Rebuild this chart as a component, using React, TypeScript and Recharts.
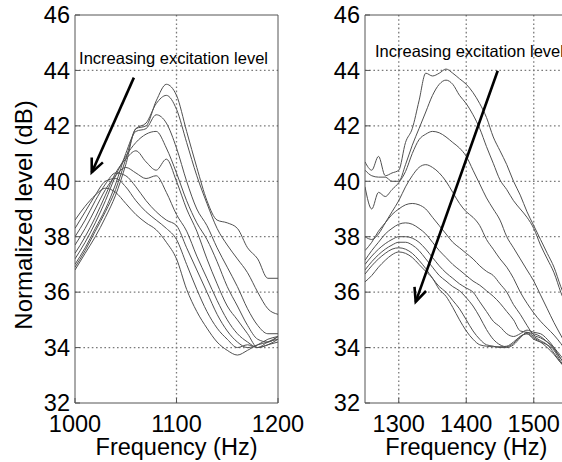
import React from 'react';
import { LineChart, Line, XAxis, YAxis, ReferenceLine, ReferenceDot } from 'recharts';

// frequency grid (Hz)
const leftFreq = [1000, 1010, 1020, 1030, 1040, 1050, 1060, 1070, 1080, 1090, 1100, 1110, 1120, 1130, 1140, 1150, 1160, 1170, 1180, 1190, 1200];
const rightFreq = [1250, 1260, 1270, 1280, 1290, 1300, 1310, 1320, 1330, 1340, 1350, 1360, 1370, 1380, 1390, 1400, 1410, 1420, 1430, 1440, 1450, 1460, 1470, 1480, 1490, 1500, 1510, 1520, 1530, 1540, 1550];

// left panel, normalized level (dB), lowest excitation first
const left1 = [36.8, 37.4, 38.0, 38.7, 39.5, 40.6, 41.9, 42.0, 42.9, 43.5, 43.1, 41.8, 40.5, 39.3, 38.6, 38.5, 38.3, 37.6, 37.2, 36.5, 36.5];
const left2 = [36.9, 37.5, 38.2, 38.9, 39.7, 40.8, 41.9, 42.1, 42.8, 43.1, 42.6, 41.4, 40.2, 39.2, 38.3, 37.7, 37.2, 36.7, 36.0, 35.4, 35.2];
const left3 = [37.0, 37.6, 38.3, 39.0, 39.9, 41.0, 41.8, 41.9, 42.4, 42.1, 41.2, 40.0, 39.0, 38.4, 37.6, 36.9, 36.2, 35.4, 34.8, 34.5, 34.5];
const left4 = [37.2, 37.8, 38.5, 39.3, 40.2, 40.9, 41.4, 41.7, 41.8, 41.2, 40.3, 39.3, 38.5, 37.9, 37.1, 36.2, 35.5, 34.8, 34.3, 34.2, 34.4];
const left5 = [37.4, 38.0, 38.7, 39.5, 40.3, 40.8, 41.1, 40.7, 40.4, 40.8, 40.0, 39.0, 38.2, 37.2, 36.3, 35.5, 35.0, 34.5, 34.0, 34.1, 34.3];
const left6 = [37.7, 38.3, 39.0, 39.7, 40.2, 40.5, 40.3, 40.1, 40.2, 39.6, 38.8, 38.2, 37.3, 36.5, 35.7, 35.0, 34.5, 34.2, 34.0, 34.1, 34.2];
const left7 = [38.0, 38.6, 39.3, 39.9, 40.3, 40.2, 39.8, 39.3, 38.9, 38.6, 38.4, 37.6, 36.8, 36.0, 35.2, 34.6, 34.2, 34.0, 34.1, 34.3, 34.4];
const left8 = [38.3, 38.9, 39.5, 40.0, 40.1, 39.8, 39.3, 38.9, 38.6, 38.3, 37.9, 37.0, 36.1, 35.3, 34.7, 34.3, 34.0, 34.1, 34.0, 34.2, 34.3];
const left9 = [38.6, 39.1, 39.5, 39.75, 39.6, 39.2, 38.8, 38.5, 38.25, 37.8, 37.2, 36.1, 35.3, 34.7, 34.2, 33.9, 33.73, 33.9, 34.1, 34.2, 34.4];

// right panel
const right1 = [40.7, 40.4, 40.9, 40.2, 40.3, 40.4, 41.4, 41.9, 42.9, 43.9, 43.8, 43.9, 44.05, 43.9, 43.7, 43.5, 43.2, 42.8, 42.3, 41.6, 41.1, 40.6, 40.0, 39.5, 38.9, 38.4, 37.9, 37.4, 36.9, 36.2, 35.6];
const right2 = [40.4, 40.2, 40.15, 40.15, 40.0, 40.0, 40.6, 41.3, 41.9, 42.5, 43.1, 43.5, 43.65, 43.5, 43.1, 42.8, 42.4, 41.9, 41.25, 40.65, 40.05, 39.7, 39.3, 39.0, 38.7, 38.3, 37.7, 37.2, 36.7, 36.0, 35.4];
const right3 = [39.8, 39.0, 39.6, 39.45, 39.7, 39.95, 40.35, 41.0, 41.5, 41.7, 41.8, 41.75, 41.6, 41.4, 41.2, 40.9, 40.4, 39.9, 39.4, 39.0, 38.6, 38.0, 37.6, 37.2, 36.8, 36.4, 35.9, 35.4, 34.9, 34.45, 34.0];
const right4 = [38.0, 37.9, 38.1, 38.5, 38.9, 39.3, 39.8, 40.2, 40.5, 40.6, 40.5, 40.3, 40.0, 39.6, 39.2, 38.9, 38.7, 38.4, 37.9, 37.55, 37.2, 36.9, 36.5, 36.0, 35.6, 35.25, 34.95, 34.7, 34.45, 34.15, 33.8];
const right5 = [37.5, 37.8, 38.2, 38.5, 38.8, 39.0, 39.15, 39.2, 39.15, 39.0, 38.7, 38.4, 38.1, 37.8, 37.6, 37.4, 37.2, 36.95, 36.75, 36.6, 36.3, 36.0, 35.55, 35.2, 34.8, 34.45, 34.35, 34.2, 34.0, 33.7, 33.4];
const right6 = [37.15, 37.5, 37.8, 38.1, 38.3, 38.45, 38.5, 38.45, 38.3, 38.1, 37.8, 37.5, 37.25, 37.0, 36.8, 36.6, 36.4, 36.25, 36.05, 35.85, 35.6, 35.3, 35.0, 34.6, 34.55, 34.5, 34.4, 34.2, 33.95, 33.6, 33.3];
const right7 = [37.0, 37.3, 37.55, 37.75, 37.9, 38.0, 38.0, 37.95, 37.8, 37.55, 37.25, 36.95, 36.7, 36.5, 36.3, 36.15, 36.0, 35.65, 35.3, 34.95, 34.75, 34.5, 34.4, 34.5, 34.63, 34.55, 34.5, 34.3, 34.0, 33.6, 33.3];
const right8 = [36.8, 37.1, 37.35, 37.55, 37.7, 37.8, 37.8, 37.7, 37.5, 37.2, 36.9, 36.6, 36.4, 36.2, 36.05, 35.8, 35.5, 35.1, 34.65, 34.3, 34.1, 34.03, 34.15, 34.4, 34.5, 34.3, 34.2, 34.1, 33.9, 33.5, 33.2];
const right9 = [36.65, 36.95, 37.2, 37.4, 37.55, 37.6, 37.55, 37.4, 37.15, 36.85, 36.5, 36.2, 36.0, 35.7, 35.4, 35.0, 34.6, 34.3, 34.1, 34.05, 34.0, 34.0, 34.1, 34.35, 34.55, 34.4, 34.25, 34.1, 33.8, 33.45, 33.2];
const right10 = [36.37, 36.6, 36.9, 37.15, 37.35, 37.45, 37.4, 37.25, 37.0, 36.75, 36.5, 36.1, 35.85, 35.45, 35.0, 34.6, 34.3, 34.1, 34.05, 34.03, 34.03, 34.05, 34.2, 34.4, 34.5, 34.35, 34.2, 34.0, 33.75, 33.45, 33.2];

const levelTicks = [32, 34, 36, 38, 40, 42, 44, 46];
const leftFreqTicks = [1000, 1100, 1200];
const rightFreqTicks = [1300, 1400, 1500];

const noteText = 'Increasing excitation level';
const leftArrow = [{ x: 1058, y: 43.74 }, { x: 1016.5, y: 40.32 }];
const rightArrow = [{ x: 1446.6, y: 43.99 }, { x: 1325.1, y: 35.65 }];
const leftNoteAt = { x: 1004, y: 44.23 };
const rightNoteAt = { x: 1264.8, y: 44.47 };

const FONT = '"Liberation Sans", Arial, Helvetica, sans-serif';

const toRows = (freq: number[], curves: number[][]) =>
  freq.map((f, i) => {
    const row: Record<string, number> = { f };
    curves.forEach((c, k) => {
      row['c' + k] = c[i];
    });
    return row;
  });

// dotted grid line and solid frame edge, both placed through the axis scales
const gridShape = (p: any) => (
  <line x1={p.x1} y1={p.y1} x2={p.x2} y2={p.y2} stroke="#7a7a7a" strokeWidth={1.3} strokeDasharray="1.6 2.6" />
);
const frameShape = (p: any) => (
  <line x1={p.x1} y1={p.y1} x2={p.x2} y2={p.y2} stroke="#555" strokeWidth={1} />
);

const arrowShape = (p: any) => {
  const { x1, y1, x2, y2 } = p;
  const ang = Math.atan2(y2 - y1, x2 - x1);
  const len = 15;
  const spread = 0.42;
  const ax = x2 - len * Math.cos(ang - spread);
  const ay = y2 - len * Math.sin(ang - spread);
  const bx = x2 - len * Math.cos(ang + spread);
  const by = y2 - len * Math.sin(ang + spread);
  return (
    <g>
      <line x1={x1} y1={y1} x2={x2} y2={y2} stroke="#000" strokeWidth={2.6} />
      <polyline points={`${ax},${ay} ${x2},${y2} ${bx},${by}`} fill="none" stroke="#000" strokeWidth={2.6} />
    </g>
  );
};

const noteShape = (p: any) => (
  <text x={p.cx} y={p.cy} fontSize={16.5} fill="#000">
    {noteText}
  </text>
);

const yLabel = (p: any) => {
  const vb = p.viewBox;
  const cx = vb.x + 32;
  const cy = vb.y + vb.height / 2 + 6;
  return (
    <text x={cx} y={cy} transform={`rotate(-90 ${cx} ${cy})`} textAnchor="middle" fontSize={24} fill="#000">
      Normalized level (dB)
    </text>
  );
};

interface PanelProps {
  freq: number[];
  curves: number[][];
  domain: [number, number];
  ticks: number[];
  arrow: { x: number; y: number }[];
  noteAt: { x: number; y: number };
  width: number;
  marginRight: number;
  showYLabel?: boolean;
}

function Panel({ freq, curves, domain, ticks, arrow, noteAt, width, marginRight, showYLabel }: PanelProps) {
  const rows = toRows(freq, curves);
  const innerX = ticks.filter((t) => t > domain[0] && t < domain[1]);
  const innerY = levelTicks.slice(1, -1);
  return (
    <LineChart width={width} height={462} data={rows} margin={{ top: 15, right: marginRight, left: 0, bottom: 0 }} style={{ overflow: 'visible' }}>
      <XAxis
        dataKey="f"
        type="number"
        domain={domain}
        ticks={ticks}
        interval={0}
        allowDataOverflow
        axisLine={false}
        tickLine={{ stroke: '#555' }}
        tickSize={-5}
        tickMargin={17}
        tick={{ fill: '#000', fontSize: 23.5 }}
        height={59}
        label={{ value: 'Frequency (Hz)', position: 'insideBottom', offset: 7, fill: '#000', fontSize: 23.5 }}
      />
      <YAxis
        type="number"
        domain={[32, 46]}
        ticks={levelTicks}
        interval={0}
        allowDataOverflow
        width={75}
        axisLine={false}
        tickLine={{ stroke: '#555' }}
        tickSize={-5}
        tickMargin={10}
        tick={{ fill: '#000', fontSize: 23.5 }}
        label={showYLabel ? { value: 'Normalized level (dB)', content: yLabel } : undefined}
      />
      {innerY.map((v) => (
        <ReferenceLine key={'gy' + v} y={v} shape={gridShape} ifOverflow="visible" />
      ))}
      {innerX.map((v) => (
        <ReferenceLine key={'gx' + v} x={v} shape={gridShape} ifOverflow="visible" />
      ))}
      <ReferenceLine y={32} shape={frameShape} ifOverflow="visible" />
      <ReferenceLine y={46} shape={frameShape} ifOverflow="visible" />
      <ReferenceLine x={domain[0]} shape={frameShape} ifOverflow="visible" />
      <ReferenceLine x={domain[1]} shape={frameShape} ifOverflow="visible" />
      {curves.map((_, k) => (
        <Line key={k} dataKey={'c' + k} type="monotone" stroke="#505050" strokeWidth={1} dot={false} activeDot={false} isAnimationActive={false} />
      ))}
      <ReferenceLine segment={arrow} shape={arrowShape} ifOverflow="visible" />
      <ReferenceDot x={noteAt.x} y={noteAt.y} r={0} shape={noteShape} ifOverflow="visible" />
    </LineChart>
  );
}

export default function App() {
  return (
    <div style={{ position: 'fixed', left: 0, top: 0, width: 562, height: 462, overflow: 'hidden', background: '#fff', fontFamily: FONT }}>
      <div style={{ position: 'absolute', left: 0, top: 0 }}>
        <Panel
          freq={leftFreq}
          curves={[left1, left2, left3, left4, left5, left6, left7, left8, left9]}
          domain={[1000, 1200]}
          ticks={leftFreqTicks}
          arrow={leftArrow}
          noteAt={leftNoteAt}
          width={320}
          marginRight={42}
          showYLabel
        />
      </div>
      <div style={{ position: 'absolute', left: 290, top: 0 }}>
        <Panel
          freq={rightFreq}
          curves={[right1, right2, right3, right4, right5, right6, right7, right8, right9, right10]}
          domain={[1250, 1550]}
          ticks={rightFreqTicks}
          arrow={rightArrow}
          noteAt={rightNoteAt}
          width={300}
          marginRight={22.5}
        />
      </div>
    </div>
  );
}
